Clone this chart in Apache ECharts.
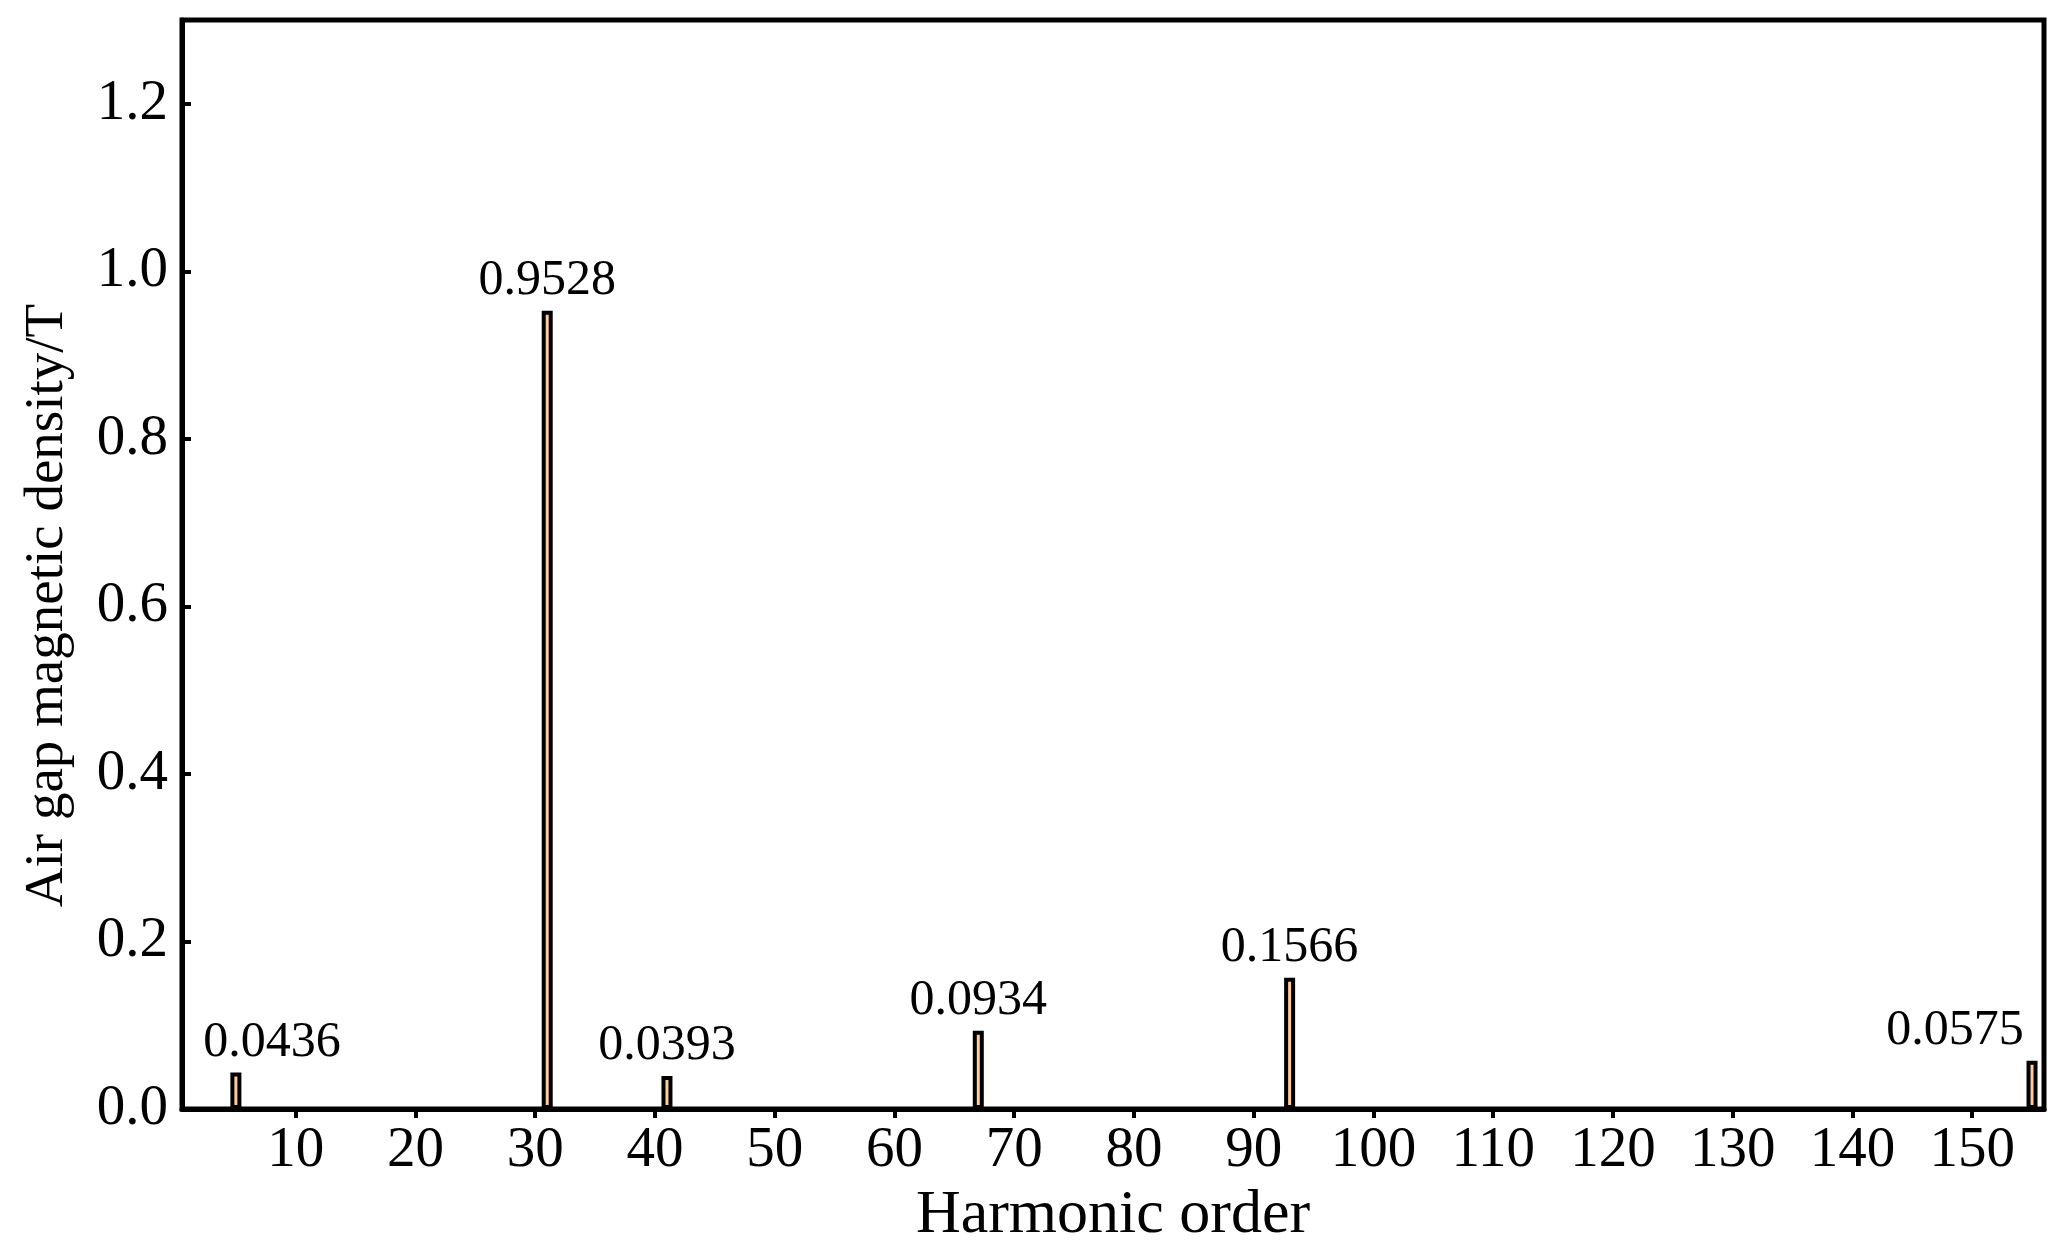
<!DOCTYPE html>
<html>
<head>
<meta charset="utf-8">
<script src="https://cdn.jsdelivr.net/npm/echarts@6/dist/echarts.min.js"></script>
<style>
  html, body { margin: 0; padding: 0; background: #fff; }
  #chart { width: 2065px; height: 1258px; }
</style>
</head>
<body>
<div id="chart"></div>
<script>
// harmonic orders with non-zero amplitude and their air-gap flux density (T)
const harmonicOrders = [5, 31, 41, 67, 93, 155]
const fluxDensity    = [0.0436, 0.9528, 0.0393, 0.0934, 0.1566, 0.0575]

const xTicks = [10, 20, 30, 40, 50, 60, 70, 80, 90, 100, 110, 120, 130, 140, 150]
const yTicks = [0, 0.2, 0.4, 0.6, 0.8, 1.0, 1.2]

// labels near the frame are nudged sideways so they stay inside
const labelShift = { 5: [36, 0], 155: [-77, 0] }

const font = 'Liberation Serif'
const black = '#000'

const chart = echarts.init(document.getElementById('chart'), null, { renderer: 'canvas' })

const option = {
  backgroundColor: '#fff',
  animation: false,
  grid: {
    left: 182, right: 21, top: 20, bottom: 149,
    show: true, borderColor: black, borderWidth: 5,
    backgroundColor: 'transparent'
  },
  xAxis: {
    type: 'value',
    min: 0.5, max: 156,
    name: 'Harmonic order',
    nameLocation: 'middle',
    nameGap: 72,
    nameTextStyle: { color: black, fontFamily: font, fontSize: 62 },
    axisLine: { show: true, lineStyle: { color: black, width: 5 } },
    axisTick: { show: true, inside: false, length: 9, lineStyle: { color: black, width: 4 }, customValues: xTicks },
    axisLabel: { color: black, fontFamily: font, fontSize: 57, margin: 14, customValues: xTicks },
    splitLine: { show: false }
  },
  yAxis: {
    type: 'value',
    min: 0, max: 1.3,
    name: 'Air gap magnetic density/T',
    nameLocation: 'middle',
    nameGap: 107,
    // shifted a little toward the bottom, as in the source figure
    nameTextStyle: { color: black, fontFamily: font, fontSize: 55, padding: [0, 82, 0, 0] },
    axisLine: { show: true, lineStyle: { color: black, width: 5 } },
    axisTick: { show: true, inside: true, length: 9, lineStyle: { color: black, width: 4 }, customValues: yTicks },
    axisLabel: {
      color: black, fontFamily: font, fontSize: 57, margin: 14,
      customValues: yTicks,
      formatter: v => v.toFixed(1)
    },
    splitLine: { show: false }
  },
  series: [
    {
      type: 'bar',
      barWidth: 11,
      data: harmonicOrders.map((h, i) => ({
        value: [h, fluxDensity[i]],
        label: labelShift[h] ? { offset: labelShift[h] } : undefined
      })),
      itemStyle: { color: '#ffcc99', borderColor: black, borderWidth: 4 },
      label: {
        show: true,
        position: 'top',
        distance: 5,
        color: black,
        fontFamily: font,
        fontSize: 50,
        formatter: p => p.value[1].toFixed(4)
      }
    }
  ]
}

chart.setOption(option)
</script>
</body>
</html>
